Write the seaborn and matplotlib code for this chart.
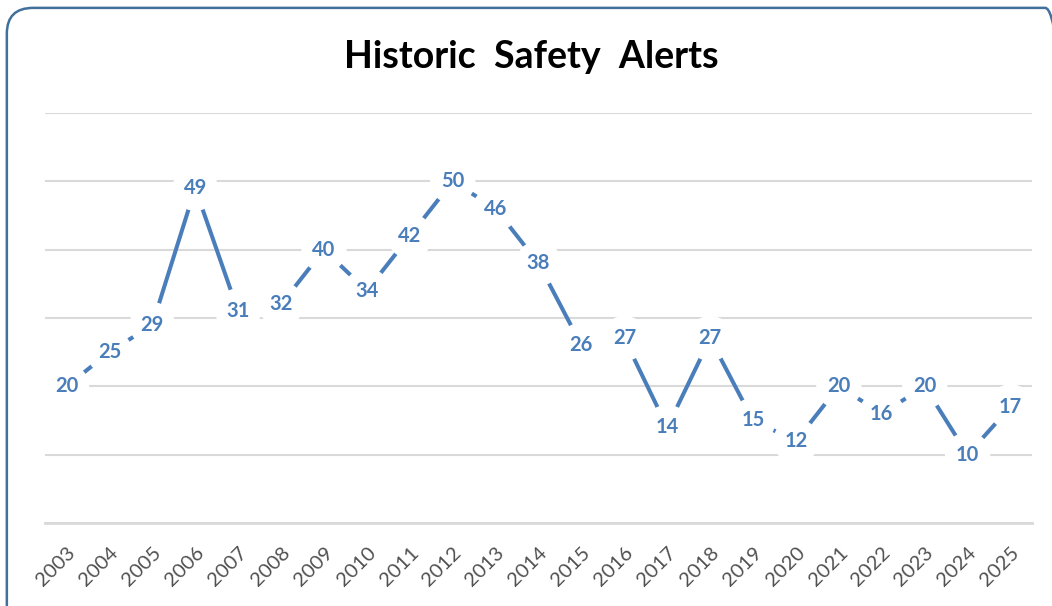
import pandas as pd
import seaborn as sns
import matplotlib.pyplot as plt
from matplotlib.patches import FancyBboxPatch

# データ
years = [str(y) for y in range(2003, 2026)]
alerts = [20, 25, 29, 49, 31, 32, 40, 34, 42, 50, 46, 38, 26, 27, 14, 27, 15, 12, 20, 16, 20, 10, 17]

df = pd.DataFrame({'year': years, 'alerts': alerts})

sns.set_style('white')
plt.rcParams['font.family'] = ['Lato', 'DejaVu Sans']

blue = '#4A7EBB'

fig = plt.figure(figsize=(10.52, 6.06), dpi=100)
ax = fig.add_axes([0.0428, 0.137, 0.9382, 0.6765])

# 外枠
frame = FancyBboxPatch((0.0065, -0.05), 1.012, 1.037, boxstyle='round,pad=0,rounding_size=0.025',
                       transform=fig.transFigure, facecolor='none', edgecolor='#41709C',
                       linewidth=1.8, mutation_aspect=1.7, clip_on=False, zorder=0)
fig.patches.append(frame)

sns.lineplot(data=df, x='year', y='alerts', ax=ax, color=blue, linewidth=2.9, zorder=2)

# データラベル
for i, v in enumerate(alerts):
    ax.text(i, v, str(v), ha='center', va='center', fontsize=14.5, fontweight='bold', color=blue,
            zorder=3, bbox=dict(boxstyle='circle,pad=0.55', facecolor='white', edgecolor='none'))

ax.set_ylim(0, 60)
ax.set_xlim(-0.5, len(years) - 0.5)
ax.set_yticks(range(0, 61, 10))
ax.yaxis.grid(True, color='#D9D9D9', linewidth=1.5)
ax.set_axisbelow(True)
ax.tick_params(axis='y', left=False, labelleft=False)
ax.tick_params(axis='x', length=0, pad=15, labelsize=14.5, labelcolor='#505050')
plt.setp(ax.get_xticklabels(), rotation=45, ha='right', rotation_mode='anchor')
for s in ['top', 'right', 'left']:
    ax.spines[s].set_visible(False)
ax.spines['bottom'].set_color('#D9D9D9')
ax.spines['bottom'].set_linewidth(2)
ax.set_xlabel('')
ax.set_ylabel('')

fig.text(0.505, 0.906, 'Historic  Safety  Alerts', ha='center', va='center', fontsize=27,
         fontweight='bold', color='black')

plt.savefig('out.png', dpi=100)
